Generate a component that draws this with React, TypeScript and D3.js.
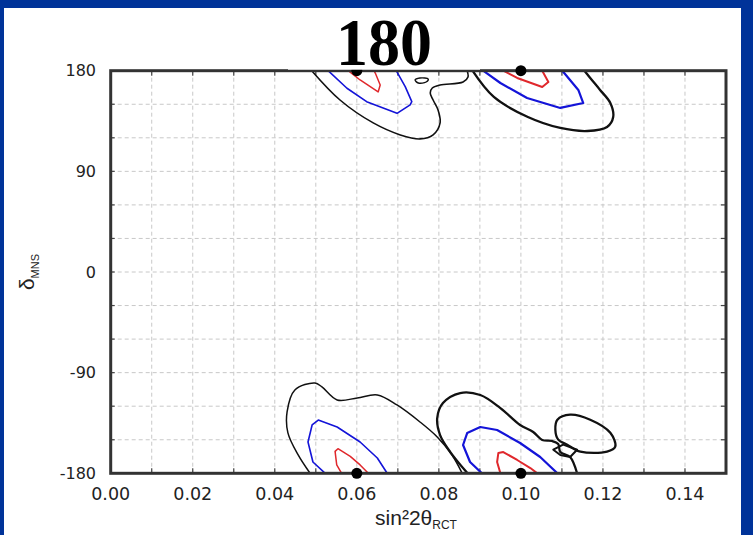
import React, { useEffect } from "react";
import * as d3 from "d3";

// ---- data ----
const TITLE = "180";
const X_TICKS = [0, 0.02, 0.04, 0.06, 0.08, 0.1, 0.12, 0.14];
const X_GRID = [0.01, 0.02, 0.03, 0.04, 0.05, 0.06, 0.07, 0.08, 0.09, 0.1, 0.11, 0.12, 0.13, 0.14];
const Y_TICKS = [180, 90, 0, -90, -180];
const Y_GRID = [150, 120, 90, 60, 30, 0, -30, -60, -90, -120, -150];
const BEST_FIT = [[0.06, 180], [0.1, 180], [0.06, -180], [0.1, -180]];

// top-left group (near 0.06, 180)
const TL_BLACK = [[0.049, 180], [0.0559, 153.8], [0.064, 133.3], [0.0706, 122.6], [0.0754, 119.0], [0.0786, 122.6], [0.0803, 133.3], [0.0798, 144.9], [0.0786, 153.8], [0.0779, 160.1], [0.0784, 164.5], [0.0803, 167.2], [0.0859, 169.9], [0.0871, 174.4], [0.0869, 180]];
const TL_ISLAND = [[0.0742, 171.7], [0.0754, 173.5], [0.0774, 172.6], [0.0769, 169.9], [0.075, 169.0]];
const TL_BLUE = [[0.053, 180], [0.0576, 164.3], [0.0624, 152.3], [0.0698, 141.9], [0.073, 149.4], [0.0734, 152.3], [0.0718, 165.7], [0.0696, 180]];
const TL_RED = [[0.0579, 180], [0.0608, 171.7], [0.0652, 161.0], [0.0657, 167.2], [0.0645, 177.9], [0.0642, 180]];

// top-right group (near 0.10, 180)
const TR_BLACK = [[0.0882, 180], [0.0934, 156.5], [0.1017, 138.6], [0.1096, 128.8], [0.1162, 126.1], [0.121, 129.7], [0.1225, 138.6], [0.1218, 151.1], [0.1193, 162.8], [0.1169, 173.5], [0.1155, 180]];
const TR_BLUE = [[0.0908, 180], [0.095, 169.0], [0.1015, 155.6], [0.1096, 146.7], [0.1152, 151.1], [0.114, 162.8], [0.1101, 180]];
const TR_RED = [[0.0957, 180], [0.0991, 173.5], [0.1052, 165.4], [0.1067, 169.9], [0.1055, 177.9], [0.1052, 180]];

// bottom-left group (near 0.06, -180)
const BL_BLACK = [[0.0486, -180], [0.0457, -163.6], [0.0432, -143.9], [0.043, -125.1], [0.0449, -105.5], [0.0498, -99.2], [0.0515, -102.8], [0.0552, -114.4], [0.0601, -112.6], [0.065, -109.9], [0.0698, -118.9], [0.0754, -134.1], [0.0796, -147.5], [0.0832, -163.6], [0.0857, -180]];
const BL_BLUE = [[0.0523, -180], [0.0493, -169.9], [0.0481, -152.0], [0.0491, -136.8], [0.0506, -132.4], [0.0552, -138.6], [0.0608, -152.0], [0.065, -166.3], [0.0674, -180]];
const BL_RED = [[0.0563, -180], [0.0551, -172.5], [0.0547, -160.4], [0.0554, -158.0], [0.0584, -164.9], [0.0608, -172.5], [0.0628, -180]];

// bottom-right group (near 0.10, -180)
const BR_BLACK = [[0.087, -180], [0.0828, -161.0], [0.0803, -145.8], [0.0796, -130.6], [0.081, -117.2], [0.0852, -108.2], [0.0901, -110.0], [0.095, -121.7], [0.0998, -136.8], [0.103, -143.1], [0.1052, -150.2], [0.1076, -151.1], [0.1091, -153.8], [0.1096, -160.9], [0.112, -165.4], [0.1137, -180]];
const BR_ISLAND = [[0.1089, -132.1], [0.112, -127.6], [0.1169, -132.1], [0.1218, -143.8], [0.123, -156.2], [0.121, -160.6], [0.1145, -160.6], [0.1113, -154.4], [0.1091, -149.9], [0.1084, -141.0]];
const BR_QUAD = [[0.1079, -158.9], [0.1103, -154.4], [0.1137, -158.9], [0.112, -165.4], [0.1096, -163.6]];
const BR_BLUE = [[0.0905, -180], [0.0876, -169.9], [0.0859, -154.7], [0.0869, -144.0], [0.0901, -138.6], [0.0942, -141.3], [0.0998, -152.9], [0.1047, -165.4], [0.1089, -180]];
const BR_RED = [[0.095, -180], [0.0942, -169.9], [0.0945, -161.9], [0.0957, -161.0], [0.0991, -168.1], [0.1023, -175.3], [0.104, -180]];

const W = 753;
const H = 535;
const PL = 110.7, PR = 726, PT = 70.7, PB = 473.3;

export default function App() {
  useEffect(() => {
    document.body.style.margin = "0";
  }, []);

  const x = d3.scaleLinear().domain([0, 0.15]).range([PL, PR]);
  const y = d3.scaleLinear().domain([-180, 180]).range([PB, PT]);

  const smooth = d3.line<number[]>().x((d) => x(d[0])).y((d) => y(d[1])).curve(d3.curveCatmullRom.alpha(0.5));
  const lin = d3.line<number[]>().x((d) => x(d[0])).y((d) => y(d[1])).curve(d3.curveLinear);
  const closedSmooth = d3.line<number[]>().x((d) => x(d[0])).y((d) => y(d[1])).curve(d3.curveCatmullRomClosed.alpha(0.5));
  const closedLin = d3.line<number[]>().x((d) => x(d[0])).y((d) => y(d[1])).curve(d3.curveLinearClosed);

  const blue = "#1414d8";
  const red = "#e0282c";
  const black = "#111";

  const fmt = d3.format(".2f");

  return (
    <svg width={W} height={H} style={{ position: "absolute", left: 0, top: 0, display: "block" }}>
      <defs>
        <clipPath id="plotclip">
          <rect x={PL} y={PT} width={PR - PL} height={PB - PT} />
        </clipPath>
      </defs>
      <rect x={0} y={0} width={W} height={H} fill="#003399" />
      <rect x={4} y={8} width={737} height={H - 8} fill="#ffffff" />

      {/* grid */}
      <g stroke="#c8c8c8" strokeWidth={1} strokeDasharray="4,3">
        {X_GRID.map((v) => (
          <line key={"gx" + v} x1={x(v)} x2={x(v)} y1={PT} y2={PB} />
        ))}
        {Y_GRID.map((v) => (
          <line key={"gy" + v} x1={PL} x2={PR} y1={y(v)} y2={y(v)} />
        ))}
      </g>

      {/* ticks */}
      <g stroke="#444" strokeWidth={1.2}>
        {X_GRID.map((v) => (
          <g key={"tx" + v}>
            <line x1={x(v)} x2={x(v)} y1={PB} y2={PB - 5} />
            <line x1={x(v)} x2={x(v)} y1={PT} y2={PT + 5} />
          </g>
        ))}
        {Y_GRID.map((v) => (
          <g key={"ty" + v}>
            <line x1={PL} x2={PL + 4} y1={y(v)} y2={y(v)} />
            <line x1={PR} x2={PR - 5} y1={y(v)} y2={y(v)} />
          </g>
        ))}
      </g>

      {/* contours */}
      <g clipPath="url(#plotclip)" fill="none" strokeLinejoin="round" strokeLinecap="round">
        <path d={smooth(TL_BLACK) || ""} stroke={black} strokeWidth={1.6} />
        <path d={closedSmooth(TL_ISLAND) || ""} stroke={black} strokeWidth={1.4} />
        <path d={lin(TL_BLUE) || ""} stroke={blue} strokeWidth={1.6} />
        <path d={lin(TL_RED) || ""} stroke={red} strokeWidth={1.5} />

        <path d={smooth(TR_BLACK) || ""} stroke={black} strokeWidth={2.3} />
        <path d={lin(TR_BLUE) || ""} stroke={blue} strokeWidth={2.2} />
        <path d={lin(TR_RED) || ""} stroke={red} strokeWidth={2} />

        <path d={smooth(BL_BLACK) || ""} stroke={black} strokeWidth={1.5} />
        <path d={lin(BL_BLUE) || ""} stroke={blue} strokeWidth={1.6} />
        <path d={lin(BL_RED) || ""} stroke={red} strokeWidth={1.5} />

        <path d={smooth(BR_BLACK) || ""} stroke={black} strokeWidth={2.3} />
        <path d={closedSmooth(BR_ISLAND) || ""} stroke={black} strokeWidth={2.3} />
        <path d={closedLin(BR_QUAD) || ""} stroke={black} strokeWidth={2} />
        <path d={lin(BR_BLUE) || ""} stroke={blue} strokeWidth={2.2} />
        <path d={lin(BR_RED) || ""} stroke={red} strokeWidth={2} />
      </g>

      {/* frame */}
      <rect x={PL} y={PT} width={PR - PL} height={PB - PT} fill="none" stroke="#333" strokeWidth={3} />

      {/* best fit points */}
      {BEST_FIT.map((p, i) => (
        <circle key={"bf" + i} cx={x(p[0])} cy={y(p[1])} r={5.5} fill="#000" />
      ))}

      {/* title */}
      <rect x={288} y={8} width={192} height={PT - 9} fill="#fff" />
      <text x={384} y={65} textAnchor="middle" fontFamily="'Liberation Serif', 'Times New Roman', serif" fontWeight="bold" fontSize={68} textLength={96} lengthAdjust="spacingAndGlyphs" fill="#000">
        {TITLE}
      </text>

      {/* tick labels */}
      <g fontFamily="'DejaVu Sans', sans-serif" fill="#222">
        {X_TICKS.map((v) => (
          <text key={"lx" + v} x={x(v)} y={500} textAnchor="middle" fontSize={17.5}>
            {fmt(v)}
          </text>
        ))}
        {Y_TICKS.map((v) => (
          <text key={"ly" + v} x={96} y={y(v)} dy="0.36em" textAnchor="end" fontSize={16}>
            {v}
          </text>
        ))}
      </g>

      {/* axis titles */}
      <text x={416} y={525} textAnchor="middle" fontFamily="'Liberation Sans', Arial, sans-serif" fontSize={21} fill="#222">
        sin²2θ
        <tspan fontSize={12} dy={4}>RCT</tspan>
      </text>
      <text transform="translate(34,272) rotate(-90)" textAnchor="middle" fontFamily="'Liberation Sans', Arial, sans-serif" fontSize={21} fill="#222">
        δ
        <tspan fontSize={11} dy={5}>MNS</tspan>
      </text>
    </svg>
  );
}
